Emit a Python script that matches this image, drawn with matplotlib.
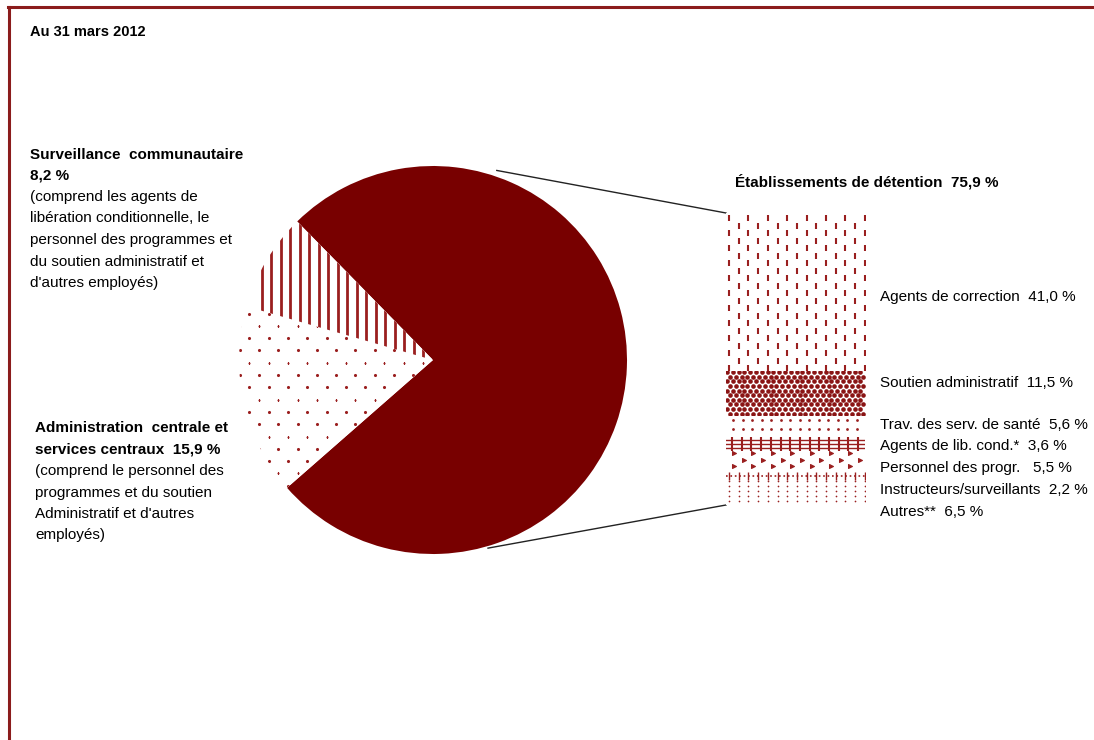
import numpy as np
import matplotlib.pyplot as plt
from matplotlib.font_manager import fontManager

# Effectifs au 31 mars 2012 (%)
secteurs = ["Établissements de détention", "Surveillance communautaire",
            "Administration centrale et services centraux"]
parts_secteurs = [75.9, 8.2, 15.9]

postes = ["Agents de correction", "Soutien administratif",
          "Trav. des serv. de santé", "Agents de lib. cond.*",
          "Personnel des progr.", "Instructeurs/surveillants", "Autres**"]
parts_postes = [41.0, 11.5, 5.6, 3.6, 5.5, 2.2, 6.5]
etiquettes_postes = ["Agents de correction  41,0 %", "Soutien administratif  11,5 %",
                     "Trav. des serv. de santé  5,6 %", "Agents de lib. cond.*  3,6 %",
                     "Personnel des progr.   5,5 %", "Instructeurs/surveillants  2,2 %",
                     "Autres**  6,5 %"]

names = {f.name for f in fontManager.ttflist}
FONT = "Liberation Sans Narrow" if "Liberation Sans Narrow" in names else "Liberation Sans"
plt.rcParams["font.family"] = [FONT, "DejaVu Sans"]

DARK = "#780000"
PAT = "#9a1f1f"
W, H = 1094, 740

fig = plt.figure(figsize=(W / 100, H / 100), dpi=100)
ax = fig.add_axes([0, 0, 1, 1])


def py(y):
    return H - y


# pie
cx, cy, r = 433, py(360), 194
wedges, _ = ax.pie(parts_secteurs, startangle=-138.8, center=(cx, cy), radius=r,
                   colors=[DARK, "white", "white"], wedgeprops=dict(linewidth=0))
ax.set_xlim(0, W)
ax.set_ylim(0, H)
ax.set_aspect("auto")
ax.axis("off")

# vertical stripes in the community supervision slice
for x in np.arange(261.7, cx + 5, 9.5):
    ln, = ax.plot([x, x], [cy - r, cy + r], color=PAT, lw=2.0, solid_capstyle="butt")
    ln.set_clip_path(wedges[1])

# dotted pattern in the central administration slice
ys = np.arange(cy + r, cy - r, -12.3)
for i, yy in enumerate(ys):
    xs = np.arange(230 + (i % 2) * 9.65, cx + 10, 19.3)
    if i % 3 == 1:
        sc = ax.scatter(xs, np.full_like(xs, yy), s=3, marker="_", color=PAT, lw=1)
    else:
        sc = ax.scatter(xs, np.full_like(xs, yy), s=5, marker="o", color=PAT, lw=0)
    sc.set_clip_path(wedges[2])

# connector lines from pie to the stacked bar
a_top, a_bot = np.deg2rad(71.4), np.deg2rad(-73.7)
ax.plot([cx + 200 * np.cos(a_top), 726], [cy + 200 * np.sin(a_top), py(213)],
        color="#222222", lw=1)
ax.plot([cx + 196 * np.cos(a_bot), 726], [cy + 196 * np.sin(a_bot), py(505)],
        color="#222222", lw=1)

# frame lines (top and left)
ax.plot([8, W], [py(7), py(7)], color="#8b1c1c", lw=2.2)
ax.plot([9, 9], [py(7), 0], color="#8b1c1c", lw=2.2)

# texts
ax.text(30, py(32), "Au 31 mars 2012", fontsize=10.5, fontweight="bold", va="center")

left1 = ["(comprend les agents de", "libération conditionnelle, le",
         "personnel des programmes et", "du soutien administratif et",
         "d'autres employés)"]
ax.text(30, py(155), "Surveillance  communautaire", fontsize=11, fontweight="bold", va="center")
ax.text(30, py(176), "8,2 %", fontsize=11, fontweight="bold", va="center")
for i, s in enumerate(left1):
    ax.text(30, py(197 + 21.5 * i), s, fontsize=11, va="center")

left2 = ["(comprend le personnel des", "programmes et du soutien",
         "Administratif et d'autres", "employés)"]
ax.text(35, py(428), "Administration  centrale et", fontsize=11, fontweight="bold", va="center")
ax.text(35, py(450), "services centraux  15,9 %", fontsize=11, fontweight="bold", va="center")
for i, s in enumerate(left2):
    ax.text(35, py(471 + 21.5 * i), s, fontsize=11, va="center")

ax.text(735, py(182), "Établissements de détention  75,9 %", fontsize=11,
        fontweight="bold", va="center")

label_y = [297, 383, 425, 446, 468, 490, 512]
for s, yy in zip(etiquettes_postes, label_y):
    ax.text(880, py(yy), s, fontsize=11, va="center")

# stacked bar of detention establishments
bx0, bx1, by0, by1 = 726, 865, 213, 505
bax = fig.add_axes([bx0 / W, (H - by1) / H, (bx1 - bx0) / W, (by1 - by0) / H])
total = sum(parts_postes)
bottoms = np.concatenate([[0], np.cumsum(parts_postes)[:-1]])
bars = bax.bar(np.zeros(len(parts_postes)), parts_postes, bottom=bottoms, width=1,
               color="white", lw=0)
bax.set_xlim(-0.5, 0.5)
bax.set_ylim(total, 0)
bax.axis("off")

pxx = 1 / (bx1 - bx0)          # axis units per pixel (x)
pxy = total / (by1 - by0)      # axis units per pixel (y)


def fill(bar, dx, dy, marker, size, lw=1.2, brick=True, color=PAT, x0=0.0, y0=0.0):
    x = bar.get_x()
    b = bar.get_y()
    h = bar.get_height()
    rows = np.arange(b + y0 * pxy, b + h, dy * pxy)
    for i, yy in enumerate(rows):
        off = (dx / 2 if (brick and i % 2) else 0) + x0
        xs = np.arange(x + off * pxx, x + 1, dx * pxx)
        sc = bax.scatter(xs, np.full_like(xs, yy), s=size, marker=marker, color=color, lw=lw)
        sc.set_clip_path(bar)


def lines_h(bar, offsets, style="-", lw=1.2):
    b = bar.get_y()
    for o in offsets:
        ln, = bax.plot([-0.5, 0.5], [b + o * pxy, b + o * pxy], color=PAT, lw=lw, ls=style)
        ln.set_clip_path(bar)


# agents de correction: vertical dashes, neighbouring columns shifted
fill(bars[0], 19.4, 15, "|", 22, lw=1.5, brick=False, x0=3, y0=5)
fill(bars[0], 19.4, 15, "|", 22, lw=1.5, brick=False, x0=12.7, y0=12.5)
# soutien administratif: dense blobs
fill(bars[1], 5.8, 4.6, "o", 11, lw=0, x0=1, y0=1.5, color="#8a1414")
# services de santé: small dots
fill(bars[2], 9.5, 9.0, "o", 4, lw=0, brick=False, x0=7, y0=5)
# agents de libération conditionnelle: crossed lines
lines_h(bars[3], [3.5, 7.5, 11], lw=1.0)
fill(bars[3], 9.7, 20, "|", 90, lw=1.5, brick=False, x0=6, y0=7)
# personnel des programmes: chevrons
fill(bars[4], 19.4, 6.5, ">", 8, lw=0.8, x0=8, y0=3)
# instructeurs / autres: dotted grid
lines_h(bars[5], [4], style=":", lw=1.2)
fill(bars[5], 9.7, 20, "|", 40, lw=1.0, brick=False, x0=3, y0=4)
fill(bars[6], 9.7, 5, ".", 6, lw=0, brick=False, x0=3, y0=1)

fig.savefig("out.png", dpi=100, facecolor="white")
